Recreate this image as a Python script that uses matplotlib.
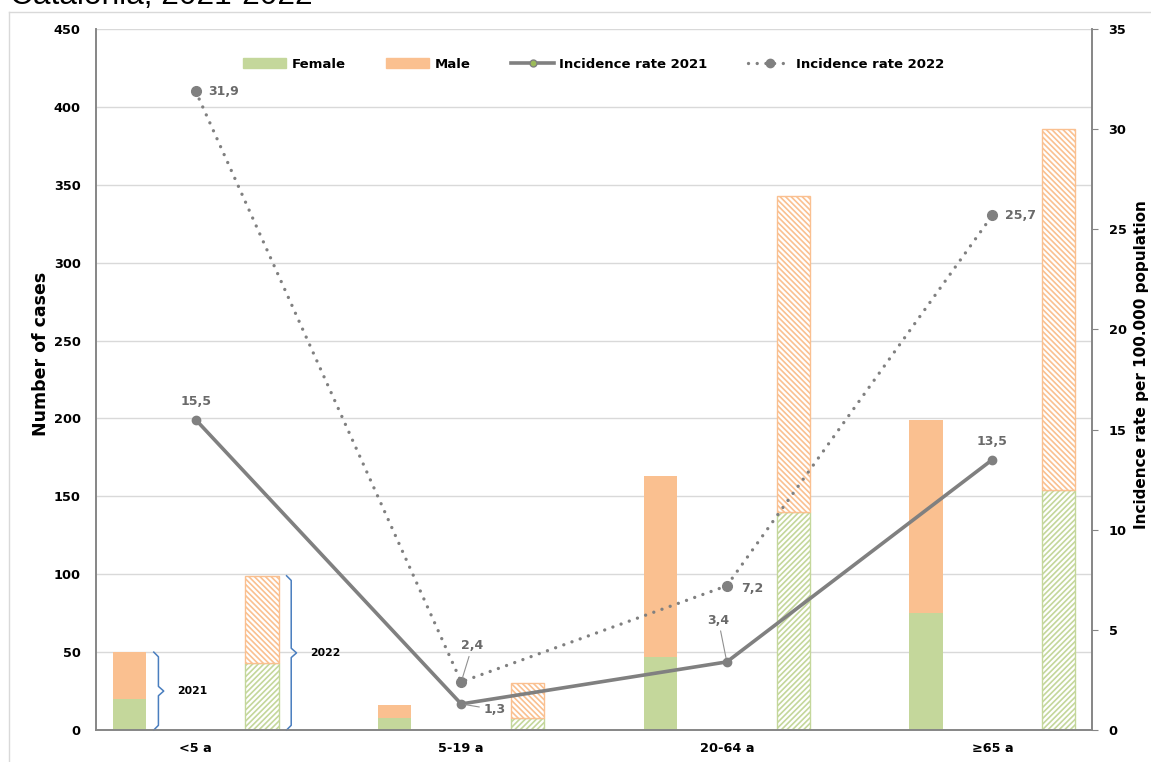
import matplotlib
matplotlib.use('Agg')
import matplotlib.pyplot as plt
from matplotlib.patches import Patch
from matplotlib.lines import Line2D

plt.rcParams['font.family'] = ['DejaVu Sans']
plt.rcParams['hatch.linewidth'] = 1.2

# data
ages = ['<5 a', '5-19 a', '20-64 a', '≥65 a']
female_2021 = [20, 8, 47, 75]
male_2021 = [30, 8, 116, 124]
female_2022 = [43, 8, 140, 154]
male_2022 = [56, 22, 203, 232]
rate_2021 = [15.5, 1.3, 3.4, 13.5]
rate_2022 = [31.9, 2.4, 7.2, 25.7]

green = '#c4d79b'
orange = '#fac090'
line_gray = '#808080'
label_gray = '#6a6a6a'
axis_gray = '#868686'

fig = plt.figure(figsize=(11.51, 7.62), dpi=100)
ax = fig.add_axes([96 / 1151, 32 / 762, 996 / 1151, 701 / 762])
ax2 = ax.twinx()

x21 = [2 * i for i in range(len(ages))]
x22 = [2 * i + 1 for i in range(len(ages))]
xmid = [2 * i + 0.5 for i in range(len(ages))]
w = 0.25

ax.bar(x21, female_2021, w, color=green, zorder=2)
ax.bar(x21, male_2021, w, bottom=female_2021, color=orange, zorder=2)
ax.bar(x22, female_2022, w, facecolor='white', edgecolor=green, hatch='//////', lw=1, zorder=2)
ax.bar(x22, male_2022, w, bottom=female_2022, facecolor='white', edgecolor=orange,
       hatch='\\' * 6, lw=1, zorder=2)

ax.set_xlim(-0.25, 7.25)
ax.set_ylim(0, 450)
ax.set_yticks(range(0, 451, 50))
ax.set_xticks(xmid)
ax.set_xticklabels(ages, fontweight='bold', fontsize=9.3)
ax.grid(axis='y', color='#d9d9d9', lw=1)
ax.set_axisbelow(True)
ax.tick_params(axis='y', length=0, pad=11, labelsize=9.3)
ax.tick_params(axis='x', length=0, pad=9)
for t in ax.get_yticklabels():
    t.set_fontweight('bold')
ax.set_ylabel('Number of cases', fontweight='bold', fontsize=12.5)
ax.yaxis.set_label_coords(-0.046, 0.536)

# braces marking the two years of the first group
brace_color = '#4a7ebf'
for xb, tot, yr in [(x21[0], female_2021[0] + male_2021[0], '2021'),
                    (x22[0], female_2022[0] + male_2022[0], '2022')]:
    bx = xb + 0.22
    mid = tot / 2
    e = 3
    ax.plot([bx - 0.035, bx, bx, bx + 0.04, bx, bx, bx - 0.035],
            [tot, tot - e, mid + e, mid, mid - e, e, 0],
            color=brace_color, lw=1.1, zorder=3, clip_on=False)
    ax.text(bx + 0.14, mid, yr, fontsize=7.8, fontweight='bold', va='center', ha='left')

# incidence rates
ax2.plot(xmid, rate_2021, color=line_gray, lw=2.6, marker='o', ms=6, zorder=4)
ax2.plot(xmid, rate_2022, color=line_gray, lw=2.4, ls=(0, (0.01, 2.6)),
         dash_capstyle='round', marker='o', ms=7, zorder=4)
ax2.set_ylim(0, 35)
ax2.set_yticks(range(0, 36, 5))
ax2.tick_params(axis='y', length=4, color=axis_gray, pad=8, labelsize=9.3)
for t in ax2.get_yticklabels():
    t.set_fontweight('bold')
ax2.set_ylabel('Incidence rate per 100.000 population', fontweight='bold', fontsize=11)
ax2.yaxis.set_label_coords(1.042, 0.521)

def fmt(v):
    return f'{v:.1f}'.replace('.', ',')

# label offsets in points (dx, dy, ha, leader)
off21 = [(0, 13, 'center', False), (24, -4, 'center', True), (-6, 30, 'center', True), (0, 13, 'center', False)]
off22 = [(9, 0, 'left', False), (8, 26, 'center', True), (10, -2, 'left', False), (9, 0, 'left', False)]
for rates, offs in [(rate_2021, off21), (rate_2022, off22)]:
    for xv, yv, (dx, dy, ha, lead) in zip(xmid, rates, offs):
        ap = dict(arrowstyle='-', color='#909090', lw=0.8, shrinkA=1, shrinkB=3) if lead else None
        ax2.annotate(fmt(yv), (xv, yv), xytext=(dx, dy), textcoords='offset points',
                     ha=ha, va='center', fontsize=9, fontweight='bold', color=label_gray,
                     arrowprops=ap, zorder=5)

for a in (ax, ax2):
    a.spines['top'].set_visible(False)
    for s in ('left', 'right', 'bottom'):
        a.spines[s].set_color(axis_gray)
        a.spines[s].set_linewidth(1.2)

handles = [Patch(color=green), Patch(color=orange),
           Line2D([], [], color=line_gray, lw=2.6, marker='o', ms=5, mfc='#9bbb59', mec=line_gray),
           Line2D([], [], color=line_gray, lw=2.4, ls=(0, (0.01, 2.6)), dash_capstyle='round', marker='o', ms=6)]
leg = ax2.legend(handles, ['Female', 'Male', 'Incidence rate 2021', 'Incidence rate 2022'],
                 loc='center', bbox_to_anchor=(0.5, 0.95), ncol=4, frameon=False,
                 handlelength=3.26, handletextpad=0.38, columnspacing=3.1,
                 prop={'weight': 'bold', 'size': 9.5})

# chart area border and clipped title
fig.add_artist(Line2D([9 / 1151, 9 / 1151], [0, 1 - 12 / 762], color='#d9d9d9', lw=1, transform=fig.transFigure))
fig.add_artist(Line2D([9 / 1151, 1], [1 - 12 / 762, 1 - 12 / 762], color='#d9d9d9', lw=1, transform=fig.transFigure))
fig.text(10 / 1151, 1 - 4 / 762, 'Catalonia, 2021-2022', fontsize=22.8, va='baseline', ha='left',
         family='Liberation Sans')

fig.savefig('out.png', dpi=100)
